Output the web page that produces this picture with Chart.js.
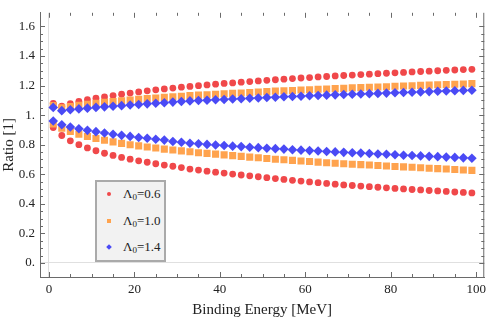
<!DOCTYPE html>
<html>
<head>
<meta charset="utf-8">
<script src="https://cdn.jsdelivr.net/npm/chart.js@4/dist/chart.umd.min.js"></script>
<style>
  html, body { margin: 0; padding: 0; background: #fff; }
  #wrap { position: relative; width: 491px; height: 320px; }
  #legend {
    position: absolute; left: 95px; top: 180px; width: 67px; height: 78px;
    background: #f2f2f2; border: 2px solid #aaaaaa;
    font-family: 'Liberation Serif', serif; font-size: 13px; color: #222;
  }
  .row { position: absolute; left: 0; width: 100%; height: 16px; }
  .mk { position: absolute; left: 10px; top: 6px; width: 4px; height: 4px; }
  .txt { position: absolute; left: 26px; top: 0; line-height: 16px; white-space: nowrap; }
  .txt sub { font-size: 9px; vertical-align: -2px; line-height: 0; }
</style>
</head>
<body>
<div id="wrap">
  <canvas id="ratioChart" width="491" height="320"></canvas>
  <div id="legend"></div>
</div>
<script>
// binding energy (MeV) of each sample
const energies = [1, 3, 5, 7, 9, 11, 13, 15, 17, 19, 21, 23, 25, 27, 29, 31, 33, 35, 37, 39,
  41, 43, 45, 47, 49, 51, 53, 55, 57, 59, 61, 63, 65, 67, 69, 71, 73, 75, 77, 79,
  81, 83, 85, 87, 89, 91, 93, 95, 97, 99];

// Λ0 = 0.6
const upper06 = [1.080, 1.060, 1.077, 1.093, 1.104, 1.114, 1.123, 1.132, 1.141, 1.149,
  1.157, 1.164, 1.171, 1.177, 1.183, 1.189, 1.194, 1.199, 1.204, 1.209,
  1.214, 1.218, 1.223, 1.227, 1.231, 1.235, 1.239, 1.243, 1.247, 1.251,
  1.254, 1.258, 1.261, 1.265, 1.268, 1.271, 1.274, 1.277, 1.280, 1.283,
  1.286, 1.289, 1.292, 1.295, 1.297, 1.300, 1.303, 1.305, 1.308, 1.310];
const lower06 = [0.916, 0.862, 0.826, 0.800, 0.778, 0.759, 0.742, 0.727, 0.714, 0.702,
  0.691, 0.681, 0.671, 0.662, 0.654, 0.645, 0.635, 0.628, 0.621, 0.614,
  0.608, 0.601, 0.595, 0.589, 0.583, 0.577, 0.571, 0.565, 0.559, 0.554,
  0.548, 0.543, 0.538, 0.533, 0.528, 0.524, 0.520, 0.516, 0.512, 0.508,
  0.504, 0.501, 0.497, 0.494, 0.490, 0.487, 0.484, 0.480, 0.477, 0.474];

// Λ0 = 1.0
const upper10 = [1.065, 1.050, 1.058, 1.066, 1.073, 1.080, 1.086, 1.092, 1.097, 1.102,
  1.107, 1.112, 1.116, 1.120, 1.124, 1.128, 1.132, 1.135, 1.138, 1.141,
  1.144, 1.147, 1.150, 1.153, 1.156, 1.159, 1.162, 1.164, 1.167, 1.170,
  1.172, 1.175, 1.177, 1.179, 1.181, 1.184, 1.186, 1.188, 1.190, 1.192,
  1.195, 1.197, 1.199, 1.201, 1.203, 1.205, 1.207, 1.209, 1.211, 1.213];
const lower10 = [0.940, 0.912, 0.889, 0.870, 0.855, 0.842, 0.830, 0.819, 0.809, 0.800,
  0.792, 0.784, 0.777, 0.770, 0.764, 0.758, 0.752, 0.746, 0.741, 0.736,
  0.731, 0.726, 0.721, 0.716, 0.711, 0.707, 0.702, 0.698, 0.694, 0.690,
  0.686, 0.682, 0.678, 0.674, 0.671, 0.668, 0.665, 0.662, 0.659, 0.656,
  0.653, 0.650, 0.647, 0.644, 0.641, 0.638, 0.635, 0.632, 0.629, 0.626];

// Λ0 = 1.4
const upper14 = [1.052, 1.030, 1.036, 1.042, 1.047, 1.052, 1.056, 1.060, 1.064, 1.068,
  1.072, 1.076, 1.080, 1.084, 1.088, 1.092, 1.096, 1.099, 1.101, 1.104,
  1.106, 1.109, 1.111, 1.114, 1.116, 1.119, 1.121, 1.124, 1.126, 1.128,
  1.131, 1.133, 1.135, 1.137, 1.139, 1.141, 1.143, 1.145, 1.147, 1.149,
  1.151, 1.153, 1.155, 1.157, 1.159, 1.161, 1.163, 1.165, 1.167, 1.168];
const lower14 = [0.960, 0.935, 0.920, 0.908, 0.897, 0.888, 0.879, 0.871, 0.863, 0.856,
  0.849, 0.843, 0.837, 0.831, 0.822, 0.816, 0.810, 0.806, 0.802, 0.798,
  0.794, 0.790, 0.787, 0.783, 0.780, 0.776, 0.773, 0.770, 0.766, 0.763,
  0.760, 0.757, 0.754, 0.751, 0.748, 0.745, 0.743, 0.740, 0.737, 0.735,
  0.732, 0.729, 0.727, 0.724, 0.721, 0.719, 0.716, 0.714, 0.711, 0.708];

const lambdaValues = ['0.6', '1.0', '1.4'];
const xTicks = [0, 20, 40, 60, 80, 100];
const yTicks = [0, 0.2, 0.4, 0.6, 0.8, 1.0, 1.2, 1.4, 1.6];
const yTickLabels = ['0.', '0.2', '0.4', '0.6', '0.8', '1.', '1.2', '1.4', '1.6'];

const RED = 'rgb(240,72,74)';
const ORANGE = 'rgb(255,163,78)';
const BLUE = 'rgb(74,74,245)';
const FRAME = '#6a6a6a';
const FONT = { family: "'Liberation Serif', 'Times New Roman', serif", size: 13 };
const TITLE_FONT = { family: "'Liberation Serif', 'Times New Roman', serif", size: 15 };

const pts = vals => energies.map((e, i) => ({ x: e, y: vals[i] }));

function series(vals, color, style, radius, order) {
  return {
    data: pts(vals),
    pointStyle: style,
    pointRadius: radius,
    pointHoverRadius: radius,
    backgroundColor: color,
    borderWidth: 0,
    showLine: false,
    order: order
  };
}

// Mathematica-like frame: inward ticks plus right edge
const frameTicks = {
  id: 'frameTicks',
  afterDatasetsDraw(chart) {
    const { ctx, chartArea: a, scales: { x, y } } = chart;
    ctx.save();
    ctx.strokeStyle = FRAME;
    ctx.lineWidth = 1;
    ctx.beginPath();
    ctx.moveTo(a.right - 0.5, a.top);
    ctx.lineTo(a.right - 0.5, a.bottom);
    for (let v = 0; v <= 100; v += 5) {
      const px = Math.round(x.getPixelForValue(v)) + 0.5;
      const len = v % 20 === 0 ? 5 : 3;
      ctx.moveTo(px, a.bottom); ctx.lineTo(px, a.bottom - len);
      ctx.moveTo(px, a.top); ctx.lineTo(px, a.top + len);
    }
    for (let k = 0; k <= 32; k++) {
      const v = k * 0.05;
      const py = Math.round(y.getPixelForValue(v)) + 0.5;
      const len = k % 4 === 0 ? 5 : 3;
      ctx.moveTo(a.left, py); ctx.lineTo(a.left + len, py);
      ctx.moveTo(a.right, py); ctx.lineTo(a.right - len, py);
    }
    ctx.stroke();
    ctx.restore();
  }
};

const zeroLine = c => (c.tick && c.tick.value === 0 ? '#e0e0e0' : 'rgba(0,0,0,0)');

new Chart(document.getElementById('ratioChart'), {
  type: 'scatter',
  data: {
    datasets: [
      series(upper06, RED, 'circle', 3.4, 2),
      series(lower06, RED, 'circle', 3.4, 2),
      series(upper10, ORANGE, 'rect', 5, 1),
      series(lower10, ORANGE, 'rect', 5, 1),
      series(upper14, BLUE, 'rectRot', 4.8, 0),
      series(lower14, BLUE, 'rectRot', 4.8, 0)
    ]
  },
  options: {
    responsive: false,
    animation: false,
    layout: { padding: { top: 0, right: 4, left: 0, bottom: 0 } },
    plugins: { legend: { display: false }, tooltip: { enabled: false } },
    scales: {
      x: {
        type: 'linear',
        min: -2.1,
        max: 101.9,
        afterBuildTicks: s => { s.ticks = xTicks.map(v => ({ value: v })); },
        afterFit: s => { s.height = 43; },
        ticks: { font: FONT, color: '#222', padding: 5, maxRotation: 0 },
        grid: { color: zeroLine, drawTicks: false },
        border: { color: FRAME },
        title: { display: true, text: 'Binding Energy [MeV]', font: TITLE_FONT, color: '#222', padding: { top: 0, bottom: 1 } }
      },
      y: {
        type: 'linear',
        min: -0.095,
        max: 1.692,
        afterBuildTicks: s => { s.ticks = yTicks.map(v => ({ value: v })); },
        afterFit: s => { s.width = 40; },
        ticks: { font: FONT, color: '#222', padding: 5, callback: (v, i) => yTickLabels[i] },
        grid: { color: zeroLine, drawTicks: false },
        border: { color: FRAME },
        title: { display: true, text: 'Ratio [1]', font: TITLE_FONT, color: '#222', padding: { top: 0, bottom: 0 } }
      }
    }
  },
  plugins: [frameTicks]
});

// legend inside the frame, with subscripts
const legendStyles = [
  { color: RED, radius: '50%', rot: 0 },
  { color: ORANGE, radius: '0', rot: 0 },
  { color: BLUE, radius: '0', rot: 45 }
];
const rowTops = [4, 31, 57];
const legend = document.getElementById('legend');
lambdaValues.forEach((lam, i) => {
  const st = legendStyles[i];
  const row = document.createElement('div');
  row.className = 'row';
  row.style.top = rowTops[i] + 'px';
  row.innerHTML = '<span class="mk" style="background:' + st.color + ';border-radius:' + st.radius +
    ';transform:rotate(' + st.rot + 'deg)"></span><span class="txt">Λ<sub>0</sub>=' + lam + '</span>';
  legend.appendChild(row);
});
</script>
</body>
</html>
